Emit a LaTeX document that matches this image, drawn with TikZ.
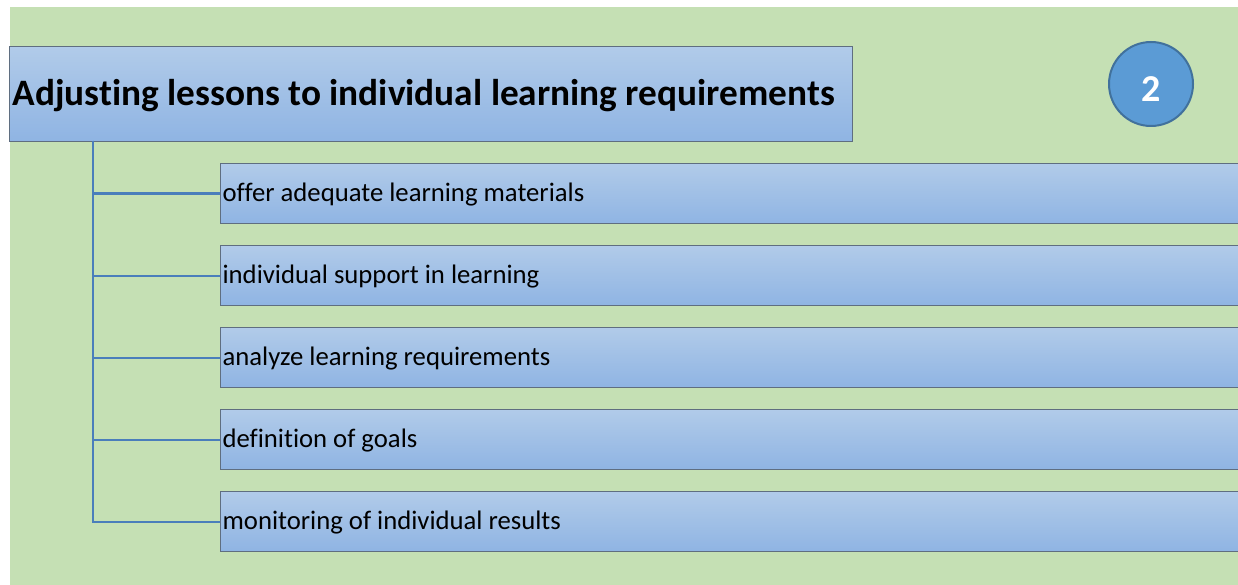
\documentclass[tikz,border=0pt]{standalone}
\usepackage{fontspec}
\setmainfont{Carlito}[Ligatures=NoCommon]
\usetikzlibrary{shadings}
\definecolor{bggreen}{RGB}{197,224,180}
\definecolor{boxtop}{RGB}{177,203,233}
\definecolor{boxbot}{RGB}{143,180,227}
\definecolor{boxline}{RGB}{95,110,128}
\definecolor{connline}{RGB}{74,126,187}
\definecolor{circfill}{RGB}{91,155,213}
\definecolor{circline}{RGB}{65,113,156}
\begin{document}
\begin{tikzpicture}[x=1pt,y=-1pt,
  mainbox/.style={draw=boxline, line width=1.2pt, top color=boxtop, bottom color=boxbot,
    anchor=north west, minimum height=95pt, inner xsep=3pt, inner ysep=0pt,
    text height=30pt, text depth=7pt,
    text width=837pt, align=flush left, font=\fontsize{37.3}{42}\selectfont\bfseries},
  itembox/.style={draw=boxline, line width=1.2pt, top color=boxtop, bottom color=boxbot,
    anchor=north west, minimum height=60pt, inner xsep=2pt, inner ysep=0pt,
    text height=21pt, text depth=5pt,
    text width=1030pt, align=flush left, font=\fontsize{26.7}{31}\selectfont},
  conn/.style={draw=connline, line width=2.2pt},
  badge/.style={circle, draw=circline, line width=2pt, fill=circfill, minimum size=84pt,
    inner sep=0pt, text=white, text height=36pt, font=\fontsize{38}{44}\selectfont\bfseries}]
\useasboundingbox (0,0) rectangle (1238,585);
\clip (0,0) rectangle (1238,585);
\fill[bggreen] (9.5,7) rectangle (1240,590);
\node[mainbox] (main) at (9,46) {Adjusting lessons to individual learning requirements};
\node[badge] (num) at (1151,84) {2};
\node[itembox] (c1) at (220,163) {offer adequate learning materials};
\node[itembox] (c2) at (220,245) {individual support in learning};
\node[itembox] (c3) at (220,327) {analyze learning requirements};
\node[itembox] (c4) at (220,409) {definition of goals};
\node[itembox] (c5) at (220,491) {monitoring of individual results};
\coordinate (trunk) at (93,141);
\foreach \i in {1,...,5} {\draw[conn] (trunk) |- (c\i.west);}
\end{tikzpicture}
\end{document}
